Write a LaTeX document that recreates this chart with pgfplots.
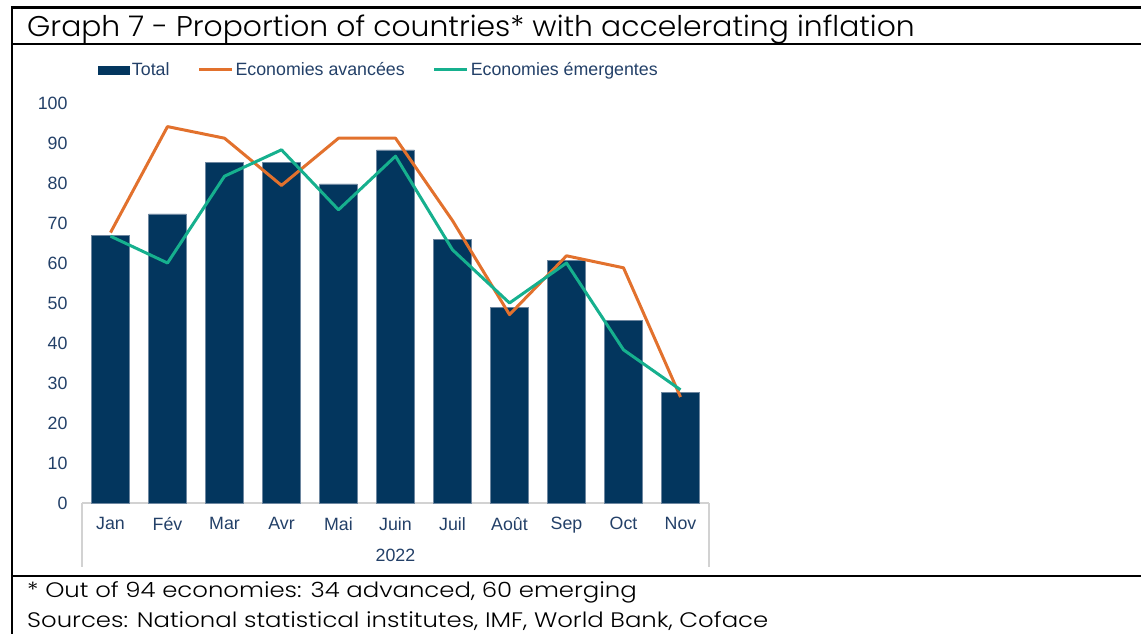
\documentclass[border=0pt]{standalone}
\usepackage{pgfplots}
\pgfplotsset{compat=1.18}
\usepackage{pgfplotstable}
\usepackage{fontspec}
\setmainfont{Liberation Sans}
\newfontfamily\titlefont{Poppins Light}

\definecolor{navybar}{RGB}{3,54,94}
\definecolor{orangeline}{RGB}{226,113,45}
\definecolor{greenline}{RGB}{22,176,142}
\definecolor{labelblue}{RGB}{35,64,104}
\definecolor{axisgray}{RGB}{210,210,210}

\pgfplotstableread{
x total adv em
0  67.0 67.6 66.7
1  72.3 94.1 60.0
2  85.1 91.2 81.7
3  85.1 79.4 88.3
4  79.8 91.2 73.3
5  88.3 91.2 86.7
6  66.0 70.6 63.3
7  48.9 47.1 50.0
8  60.6 61.8 60.0
9  45.7 58.8 38.3
10 27.7 26.5 28.3
}\datatable

\begin{document}
\begin{tikzpicture}
\useasboundingbox (0pt,0pt) rectangle (1141pt,-634pt);
\begin{axis}[
  at={(82pt,-503pt)}, anchor=south west,
  x=57pt, y=4pt,
  xmin=-0.5, xmax=10.5, ymin=0, ymax=100,
  clip=false,
  axis x line*=bottom, axis y line*=left,
  y axis line style={draw=none},
  x axis line style={draw=axisgray, line width=1.5pt},
  major tick length=0pt,
  ytick={0,10,...,100},
  xtick={0,...,10},
  xticklabels={Jan,Fév,Mar,Avr,Mai,Juin,Juil,Août,Sep,Oct,Nov},
  /pgf/number format/assume math mode=true,
  tick label style={font=\fontsize{17.8}{20}\selectfont, text=labelblue},
  yticklabel style={xshift=-11pt},
  xticklabel style={yshift=-11pt},
  legend columns=3,
  legend cell align=left,
  legend style={at={(axis description cs:0.0258,1.0825)}, anchor=west,
    draw=none, fill=none, inner sep=0pt,
    font=\fontsize{17.8}{20}\selectfont, text=labelblue,
    nodes={inner sep=2pt},
    /tikz/every even column/.append style={column sep=26pt}},
]
\addplot[ybar, bar width=37.6pt, fill=navybar, draw={rgb,255:red,110;green,135;blue,160}, line width=0.6pt,
  legend image code/.code={\fill[navybar] (0pt,-4pt) rectangle (31pt,4pt);}]
  table[x=x, y=total] {\datatable};
\addlegendentry{Total}
\addplot[orangeline, line width=3pt, line join=round, mark=none,
  legend image code/.code={\draw[line width=3pt] (0pt,0pt) -- (33pt,0pt);}]
  table[x=x, y=adv] {\datatable};
\addlegendentry{Economies avancées}
\addplot[greenline, line width=3pt, line join=round, mark=none,
  legend image code/.code={\draw[line width=3pt] (0pt,0pt) -- (33pt,0pt);}]
  table[x=x, y=em] {\datatable};
\addlegendentry{Economies émergentes}
\end{axis}

% multi-level category axis
\draw[axisgray, line width=1.5pt] (82pt,-503pt) -- (82pt,-567pt);
\draw[axisgray, line width=1.5pt] (709pt,-503pt) -- (709pt,-567pt);
\node[font=\fontsize{17.8}{20}\selectfont, text=labelblue, inner sep=0pt] at (395.5pt,-555.5pt) {2022};

% frame
\draw[line width=2.5pt] (10.8pt,-7.5pt) -- (1150pt,-7.5pt);
\draw[line width=2.5pt] (12pt,-6.3pt) -- (12pt,-640pt);
\draw[line width=2.5pt] (10.8pt,-44pt) -- (1150pt,-44pt);
\draw[line width=2.5pt] (10.8pt,-576pt) -- (1150pt,-576pt);

% title and notes
\node[anchor=base west, inner sep=0pt, font=\titlefont\fontsize{28.5}{32}\selectfont] at (27pt,-36.7pt) {\scalebox{1.045}[1]{Graph 7 - Proportion of countries* with accelerating inflation}};
\node[anchor=base west, inner sep=0pt, font=\titlefont\fontsize{21}{24}\selectfont] at (27pt,-597pt) {\scalebox{1.16}[1]{* Out of 94 economies: 34 advanced, 60 emerging}};
\node[anchor=base west, inner sep=0pt, font=\titlefont\fontsize{21}{24}\selectfont] at (27pt,-627pt) {\scalebox{1.16}[1]{Sources: National statistical institutes, IMF, World Bank, Coface}};
\end{tikzpicture}
\end{document}
